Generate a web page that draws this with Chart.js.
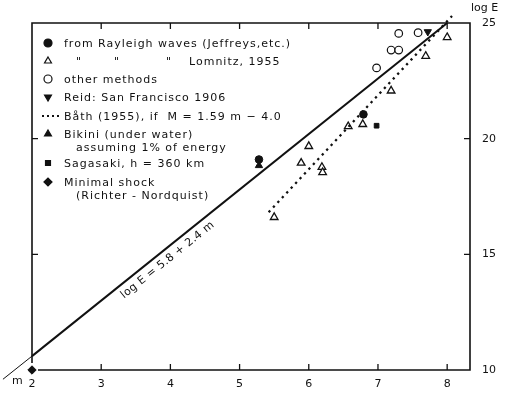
<!DOCTYPE html>
<html>
<head>
<meta charset="utf-8">
<script src="https://cdn.jsdelivr.net/npm/chart.js@4.4.1/dist/chart.umd.min.js"></script>
<style>
  body { margin: 0; background: #fff; }
  #wrap { width: 506px; height: 395px; position: relative; }
</style>
</head>
<body>
<div id="wrap"><canvas id="energyChart"></canvas></div>
<script>
// magnitude m (x) and log E (y)
const rayleighM = [5.28, 6.79];
const rayleighE = [19.1, 21.05];
const lomnitzM = [5.5, 5.89, 6.0, 6.19, 6.2, 6.57, 6.78, 7.19, 7.69, 8.0];
const lomnitzE = [16.6, 18.95, 19.67, 18.77, 18.54, 20.53, 20.62, 22.07, 23.57, 24.38];
const otherM = [6.98, 7.19, 7.3, 7.3, 7.58];
const otherE = [23.06, 23.83, 23.83, 24.55, 24.58];
const reidM = [7.72];
const reidE = [24.62];
const bikiniM = [5.28];
const bikiniE = [18.84];
const sagasakiM = [6.98];
const sagasakiE = [20.56];
const minimalM = [2];
const minimalE = [10];
const fitLineM = [1.58, 2, 8];
const fitLineE = [9.6, 10.6, 25];
const bathLineM = [5.42, 8.07];
const bathLineE = [16.82, 25.3];

const mTicks = [2, 3, 4, 5, 6, 7, 8];
const logETicks = [10, 15, 20, 25];

const FONT = "DejaVu Sans";

const legendRows = [
  { style: "circle", fill: true, y: 43, lines: ["from Rayleigh waves (Jeffreys,etc.)"] },
  { style: "triangle", fill: false, y: 61, parts: [["\"", 76], ["\"", 114], ["\"", 166], ["Lomnitz, 1955", 189]] },
  { style: "circle", fill: false, y: 79, lines: ["other methods"] },
  { style: "triangle", rot: 180, fill: true, y: 97, lines: ["Reid: San Francisco 1906"] },
  { style: "dots", y: 116, lines: ["Båth (1955), if  M = 1.59 m − 4.0"] },
  { style: "triangle", fill: true, y: 134, lines: ["Bikini (under water)", "assuming 1% of energy"] },
  { style: "rect", fill: true, y: 163, lines: ["Sagasaki, h = 360 km"] },
  { style: "rectRot", fill: true, y: 182, lines: ["Minimal shock", "(Richter - Nordquist)"] },
];

function pts(xs, ys) {
  return xs.map((x, i) => ({ x: x, y: ys[i] }));
}

/** frame, inward ticks, extra labels and the legend */
const decorPlugin = {
  id: "decor",
  beforeDatasetsDraw(chart) {
    const { ctx, chartArea: a, scales } = chart;
    ctx.save();
    ctx.strokeStyle = "#111";
    ctx.lineWidth = 1.6;
    ctx.beginPath();
    ctx.moveTo(a.left, a.bottom - 7);
    ctx.lineTo(a.left, a.top);
    ctx.lineTo(a.right, a.top);
    ctx.lineTo(a.right, a.bottom);
    ctx.lineTo(a.left + 6, a.bottom);
    ctx.stroke();
    ctx.lineWidth = 1.3;
    ctx.beginPath();
    mTicks.forEach((v) => {
      const px = scales.x.getPixelForValue(v);
      if (v > mTicks[0]) {
        ctx.moveTo(px, a.bottom);
        ctx.lineTo(px, a.bottom - 6);
        ctx.moveTo(px, a.top);
        ctx.lineTo(px, a.top + 6);
      }
    });
    [15, 20].forEach((v) => {
      const py = scales.y.getPixelForValue(v);
      ctx.moveTo(a.right, py);
      ctx.lineTo(a.right - 6, py);
      ctx.moveTo(a.left, py);
      ctx.lineTo(a.left + 6, py);
    });
    ctx.stroke();
    ctx.restore();
  },
  afterDraw(chart) {
    const { ctx, chartArea: a, scales } = chart;
    ctx.save();
    ctx.fillStyle = "#111";
    ctx.strokeStyle = "#111";
    ctx.font = `11px "${FONT}"`;
    ctx.textBaseline = "middle";

    // axis names
    ctx.textAlign = "left";
    ctx.letterSpacing = "0px";
    ctx.fillText("log E", a.right + 1, 8);
    ctx.fillText("m", 12, 381);

    // label along the fitted line
    const p0 = { x: scales.x.getPixelForValue(2), y: scales.y.getPixelForValue(10.6) };
    const p1 = { x: scales.x.getPixelForValue(8), y: scales.y.getPixelForValue(25) };
    const ang = Math.atan2(p1.y - p0.y, p1.x - p0.x);
    const cx = scales.x.getPixelForValue(3.87);
    const cy = scales.y.getPixelForValue(5.8 + 2.4 * 3.87);
    ctx.letterSpacing = "0.4px";
    ctx.translate(cx - Math.sin(ang) * 10, cy + Math.cos(ang) * 10);
    ctx.rotate(ang);
    ctx.textAlign = "center";
    ctx.fillText("log E = 5.8 + 2.4 m", 0, 0);
    ctx.setTransform(1, 0, 0, 1, 0, 0);
    ctx.letterSpacing = "1px";

    // legend
    ctx.textAlign = "left";
    legendRows.forEach((row) => {
      if (row.style === "dots") {
        ctx.save();
        ctx.setLineDash([2, 3]);
        ctx.lineWidth = 2;
        ctx.beginPath();
        ctx.moveTo(42, row.y);
        ctx.lineTo(61, row.y);
        ctx.stroke();
        ctx.restore();
      } else {
        ctx.fillStyle = row.fill ? "#111" : "#fff";
        ctx.lineWidth = 1.2;
        Chart.helpers.drawPoint(ctx, {
          pointStyle: row.style,
          rotation: row.rot || 0,
          radius: row.style === "rect" ? 3.5 : 4,
          borderWidth: 1.2,
        }, 48, row.y);
        ctx.fillStyle = "#111";
      }
      (row.lines || []).forEach((t, i) => {
        ctx.fillText(t, i === 0 ? 64 : 76, row.y + 1 + i * 13);
      });
      (row.parts || []).forEach(([t, x]) => {
        ctx.fillText(t, x, row.y + 1);
      });
    });
    ctx.restore();
  },
};

function buildChart() {
  const ctx = document.getElementById("energyChart");
  const black = "#111";

  new Chart(ctx, {
    type: "scatter",
    data: {
      datasets: [
        {
          type: "line",
          data: pts(fitLineM.slice(0, 2), fitLineE.slice(0, 2)),
          borderColor: black,
          borderWidth: 1,
          pointRadius: 0,
          clip: false,
        },
        {
          type: "line",
          data: pts(fitLineM.slice(1), fitLineE.slice(1)),
          borderColor: black,
          borderWidth: 2,
          pointRadius: 0,
          clip: false,
        },
        {
          type: "line",
          data: pts(bathLineM, bathLineE),
          borderColor: black,
          borderWidth: 2.3,
          borderDash: [2.3, 4.2],
          pointRadius: 0,
          clip: false,
        },
        {
          data: pts(lomnitzM, lomnitzE),
          pointStyle: "triangle",
          pointRadius: 4.4,
          backgroundColor: "#fff",
          borderColor: black,
          borderWidth: 1.3,
        },
        {
          data: pts(otherM, otherE),
          pointStyle: "circle",
          pointRadius: 3.8,
          backgroundColor: "#fff",
          borderColor: black,
          borderWidth: 1.2,
        },
        {
          data: pts(bikiniM, bikiniE),
          pointStyle: "triangle",
          pointRadius: 4.2,
          backgroundColor: black,
          borderColor: black,
        },
        {
          data: pts(rayleighM, rayleighE),
          pointStyle: "circle",
          pointRadius: 3.8,
          backgroundColor: black,
          borderColor: black,
        },
        {
          data: pts(reidM, reidE),
          pointStyle: "triangle",
          rotation: 180,
          pointRadius: 4.2,
          backgroundColor: black,
          borderColor: black,
        },
        {
          data: pts(sagasakiM, sagasakiE),
          pointStyle: "rect",
          pointRadius: 3.3,
          backgroundColor: black,
          borderColor: black,
        },
        {
          data: pts(minimalM, minimalE),
          pointStyle: "rectRot",
          pointRadius: 4.2,
          backgroundColor: black,
          borderColor: black,
          clip: false,
        },
      ],
    },
    options: {
      responsive: true,
      maintainAspectRatio: false,
      animation: false,
      layout: { padding: { left: 32, top: 23, right: 0, bottom: 0 } },
      plugins: {
        legend: { display: false },
        tooltip: { enabled: false },
      },
      scales: {
        x: {
          type: "linear",
          min: 2,
          max: 8.33,
          grid: { display: false },
          border: { display: false },
          afterBuildTicks: (s) => { s.ticks = mTicks.map((v) => ({ value: v })); },
          afterFit: (s) => { s.height = 25; },
          ticks: { color: black, padding: 0, font: { family: FONT, size: 11 } },
        },
        y: {
          type: "linear",
          position: "right",
          min: 10,
          max: 25,
          grid: { display: false },
          border: { display: false },
          afterBuildTicks: (s) => { s.ticks = logETicks.map((v) => ({ value: v })); },
          afterFit: (s) => { s.width = 36; },
          ticks: { color: black, padding: 4, font: { family: FONT, size: 11 } },
        },
      },
    },
    plugins: [decorPlugin],
  });
}

buildChart();
</script>
</body>
</html>
